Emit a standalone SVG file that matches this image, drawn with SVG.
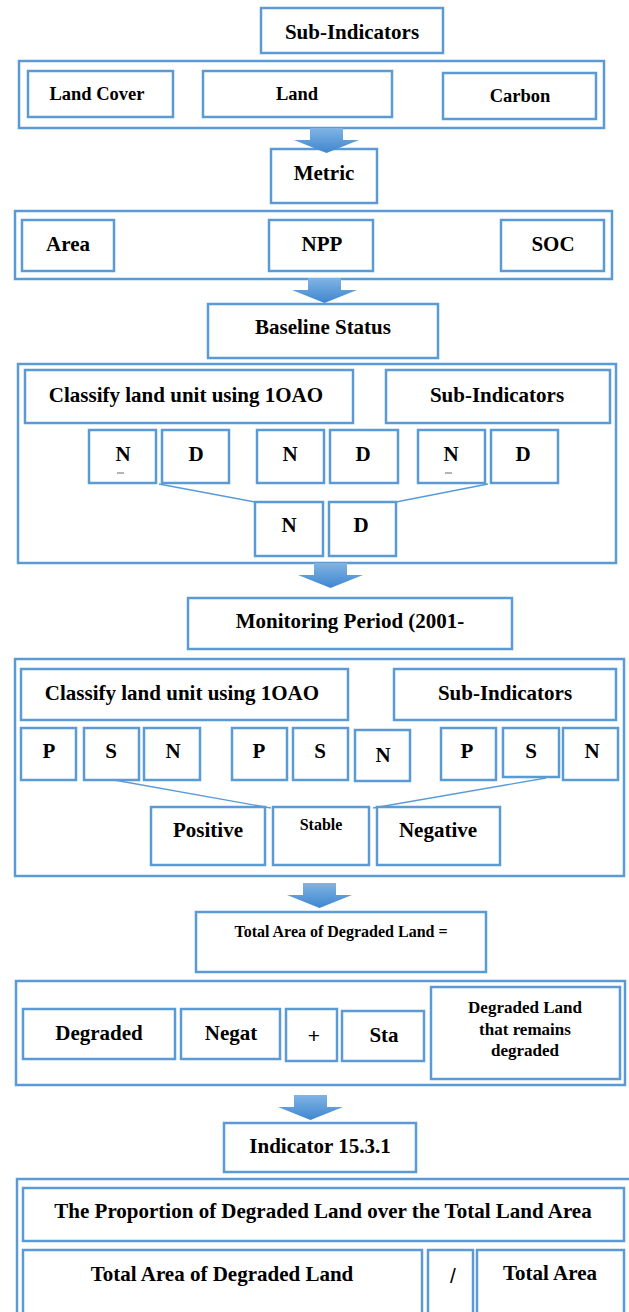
<svg xmlns="http://www.w3.org/2000/svg" width="629" height="1312" viewBox="0 0 629 1312">
<style>
.b{fill:#fff;stroke:#5b9bd5;stroke-width:2.5}
.t{font-family:'Liberation Serif','Times New Roman',Tinos,'DejaVu Serif',serif;font-weight:700;fill:#000;text-anchor:middle;font-size:21px}
.s185{font-size:18.5px}
.s17{font-size:17px}
.s16{font-size:16px}
.sans{font-family:'Liberation Sans',Arial,sans-serif;font-weight:400}
.c{stroke:#5b9bd5;stroke-width:1.3;fill:none}
</style>
<defs>
<linearGradient id="ag" x1="0" y1="0" x2="0" y2="1">
<stop offset="0" stop-color="#80b4e4"/>
<stop offset="1" stop-color="#3f86cf"/>
</linearGradient>
<path id="arrow" d="M16,0 H49 V12 H65 L32.5,25 L0,12 H16 Z" fill="url(#ag)"/>
</defs>
<rect width="629" height="1312" fill="#fff"/>

<g id="sub-indicators-top"><rect class="b" x="261" y="8" width="182" height="45"/><text class="t" x="352" y="39">Sub-Indicators</text></g>
<g id="group-subindicators"><rect class="b" x="19" y="61" width="585" height="67"/></g>
<g id="land-cover"><rect class="b" x="28" y="71" width="145" height="46"/><text class="t s185" x="97" y="100">Land Cover</text></g>
<g id="land"><rect class="b" x="203" y="71" width="189" height="46"/><text class="t s185" x="297" y="100">Land</text></g>
<g id="carbon"><rect class="b" x="443" y="73" width="153" height="46"/><text class="t s185" x="520" y="102">Carbon</text></g>

<g id="metric"><rect class="b" x="271" y="149" width="106" height="54"/><text class="t" x="324" y="180">Metric</text></g>
<g id="group-metric"><rect class="b" x="15" y="211" width="597" height="68"/></g>
<g id="area"><rect class="b" x="22" y="220" width="92" height="51"/><text class="t" x="68" y="251">Area</text></g>
<g id="npp"><rect class="b" x="269" y="220" width="104" height="51"/><text class="t" x="322" y="251">NPP</text></g>
<g id="soc"><rect class="b" x="501" y="220" width="103" height="51"/><text class="t" x="553" y="251">SOC</text></g>

<g id="baseline-status"><rect class="b" x="208" y="304" width="230" height="54"/><text class="t" x="323" y="334">Baseline Status</text></g>
<g id="group-baseline"><rect class="b" x="18" y="364" width="598" height="199"/></g>
<g id="classify-1"><rect class="b" x="25" y="370" width="328" height="53"/><text class="t" x="186" y="402">Classify land unit using 1OAO</text></g>
<g id="sub-indicators-1"><rect class="b" x="386" y="370" width="224" height="53"/><text class="t" x="497" y="402">Sub-Indicators</text></g>
<g id="n1"><rect class="b" x="89" y="430" width="67" height="53"/><text class="t" x="123" y="461">N</text><line x1="117" y1="473" x2="124" y2="473" stroke="#444" stroke-width="0.8"/></g>
<g id="d1"><rect class="b" x="162" y="430" width="67" height="53"/><text class="t" x="196" y="461">D</text></g>
<g id="n2"><rect class="b" x="257" y="430" width="67" height="53"/><text class="t" x="290" y="461">N</text></g>
<g id="d2"><rect class="b" x="330" y="430" width="68" height="53"/><text class="t" x="363" y="461">D</text></g>
<g id="n3"><rect class="b" x="418" y="430" width="67" height="53"/><text class="t" x="451" y="461">N</text><line x1="445" y1="473" x2="452" y2="473" stroke="#444" stroke-width="0.8"/></g>
<g id="d3"><rect class="b" x="491" y="430" width="67" height="53"/><text class="t" x="523" y="461">D</text></g>
<g id="n-result"><rect class="b" x="255" y="502" width="68" height="54"/><text class="t" x="289" y="532">N</text></g>
<g id="d-result"><rect class="b" x="329" y="502" width="67" height="54"/><text class="t" x="361" y="532">D</text></g>

<g id="monitoring-period"><rect class="b" x="188" y="598" width="324" height="51"/><text class="t" x="350" y="628">Monitoring Period (2001-</text></g>
<g id="group-monitoring"><rect class="b" x="15" y="659" width="609" height="217"/></g>
<g id="classify-2"><rect class="b" x="21" y="669" width="327" height="51"/><text class="t" x="182" y="700">Classify land unit using 1OAO</text></g>
<g id="sub-indicators-2"><rect class="b" x="394" y="669" width="222" height="51"/><text class="t" x="505" y="700">Sub-Indicators</text></g>
<g id="p1"><rect class="b" x="21" y="728" width="55" height="52"/><text class="t" x="49" y="758">P</text></g>
<g id="s1"><rect class="b" x="84" y="728" width="55" height="52"/><text class="t" x="111" y="758">S</text></g>
<g id="nn1"><rect class="b" x="144" y="728" width="56" height="52"/><text class="t" x="173" y="758">N</text></g>
<g id="p2"><rect class="b" x="232" y="728" width="55" height="52"/><text class="t" x="259" y="758">P</text></g>
<g id="s2"><rect class="b" x="293" y="728" width="55" height="52"/><text class="t" x="320" y="758">S</text></g>
<g id="nn2"><rect class="b" x="355" y="730" width="55" height="51"/><text class="t" x="383" y="762">N</text></g>
<g id="p3"><rect class="b" x="441" y="728" width="55" height="52"/><text class="t" x="467" y="758">P</text></g>
<g id="s3"><rect class="b" x="503" y="728" width="56" height="49"/><text class="t" x="531" y="758">S</text></g>
<g id="nn3"><rect class="b" x="563" y="728" width="55" height="52"/><text class="t" x="592" y="758">N</text></g>
<g id="positive"><rect class="b" x="151" y="807" width="114" height="58"/><text class="t" x="208" y="837">Positive</text></g>
<g id="stable"><rect class="b" x="273" y="807" width="96" height="58"/><text class="t s16" x="321" y="830">Stable</text></g>
<g id="negative"><rect class="b" x="377" y="807" width="123" height="58"/><text class="t" x="438" y="837">Negative</text></g>

<g id="total-area-degraded-eq"><rect class="b" x="196" y="912" width="290" height="60"/><text class="t s16" x="341" y="937">Total Area of Degraded Land =</text></g>
<g id="group-degraded"><rect class="b" x="16" y="981" width="609" height="104"/></g>
<g id="degraded"><rect class="b" x="23" y="1009" width="152" height="50"/><text class="t" x="99" y="1040">Degraded</text></g>
<g id="negat"><rect class="b" x="181" y="1009" width="99" height="50"/><text class="t" x="231" y="1040">Negat</text></g>
<g id="plus"><rect class="b" x="286" y="1009" width="51" height="52"/><text class="t sans" x="314" y="1043">+</text></g>
<g id="sta"><rect class="b" x="342" y="1011" width="82" height="50"/><text class="t" x="384" y="1042">Sta</text></g>
<g id="degraded-land-remains"><rect class="b" x="431" y="987" width="189" height="92"/><text class="t s17" x="525" y="1013">Degraded Land</text><text class="t s17" x="525" y="1035">that remains</text><text class="t s17" x="525" y="1056">degraded</text></g>

<g id="indicator"><rect class="b" x="224" y="1123" width="192" height="49"/><text class="t" x="320" y="1153">Indicator 15.3.1</text></g>
<g id="group-indicator"><rect class="b" x="17" y="1179" width="620" height="150"/></g>
<g id="proportion"><rect class="b" x="23" y="1188" width="601" height="53"/><text class="t" x="323" y="1218">The Proportion of Degraded Land over the Total Land Area</text></g>
<g id="total-area-degraded"><rect class="b" x="23" y="1250" width="399" height="70"/><text class="t" x="222" y="1281">Total Area of Degraded Land</text></g>
<g id="divide"><rect class="b" x="428" y="1250" width="45" height="70"/><text class="t sans" x="453" y="1283">/</text></g>
<g id="total-area"><rect class="b" x="477" y="1250" width="147" height="70"/><text class="t" x="550" y="1280">Total Area</text></g>

<g id="connectors">
<use href="#arrow" x="294" y="128"/>
<use href="#arrow" x="292" y="278"/>
<use href="#arrow" x="298" y="563"/>
<use href="#arrow" x="287" y="883"/>
<use href="#arrow" x="278" y="1095"/>
<line class="c" x1="159" y1="484" x2="255" y2="502"/>
<line class="c" x1="488" y1="484" x2="396" y2="502"/>
<line class="c" x1="114" y1="780" x2="271" y2="808"/>
<line class="c" x1="546" y1="778" x2="373" y2="808"/>
</g>
</svg>
